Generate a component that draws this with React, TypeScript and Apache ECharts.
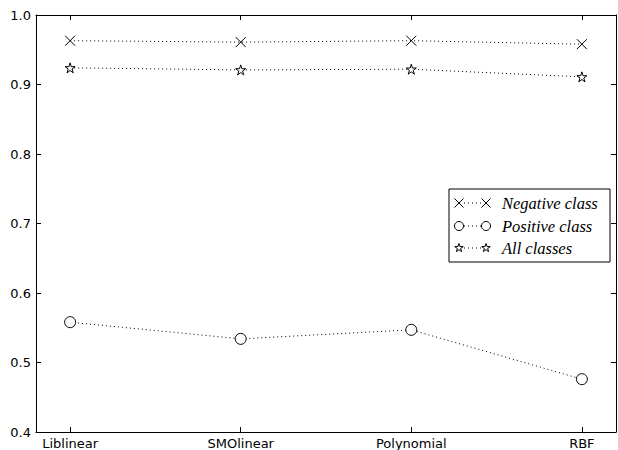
import React, { useEffect, useRef } from "react";
import * as echarts from "echarts";

const categories = ["Liblinear", "SMOlinear", "Polynomial", "RBF"];
const negativeClass = [0.963, 0.961, 0.963, 0.958];
const positiveClass = [0.558, 0.534, 0.547, 0.476];
const allClasses = [0.924, 0.921, 0.922, 0.911];
const yTicks = [0.4, 0.5, 0.6, 0.7, 0.8, 0.9, 1.0];
const seriesNames = ["Negative class", "Positive class", "All classes"];

const CROSS = "path://M0 0L10 10M10 0L0 10";
const STAR =
  "path://M50 0L61.17 34.63L97.55 34.55L68.07 55.87L79.39 90.45L50 69L20.61 90.45L31.93 55.87L2.45 34.55L38.83 34.63Z";

function starPoints(cx: number, cy: number, r: number): number[][] {
  const pts: number[][] = [];
  for (let i = 0; i < 10; i++) {
    const ang = (-90 + i * 36) * (Math.PI / 180);
    const rr = i % 2 === 0 ? r : r * 0.38;
    pts.push([cx + rr * Math.cos(ang), cy + rr * Math.sin(ang)]);
  }
  return pts;
}

export default function App() {
  const ref = useRef<HTMLDivElement>(null);
  useEffect(() => {
    if (!ref.current) return;
    const chart = echarts.init(ref.current, null, { renderer: "svg" });
    const idx = categories.map((_, i) => i);
    const axisCommon = {
      axisLine: { show: true, onZero: false, lineStyle: { color: "#000", width: 1 } },
      splitLine: { show: false },
    };
    const mkSeries = (name: string, data: number[], symbol: string, size: number) => ({
      name,
      type: "line",
      data: data.map((v, i) => [idx[i], v]),
      symbol,
      symbolSize: size,
      lineStyle: { color: "#000", width: 1, type: [1, 3] },
      itemStyle: { color: "#fff", borderColor: "#000", borderWidth: 1 },
      z: 3,
    });

    const lx = 449, ly = 189, lw = 161, lh = 73;
    const rowY = [203, 226, 248];
    const m1 = 459, m2 = 486, tx = 502;
    const dotted = (y: number) => ({
      type: "line",
      shape: { x1: m1 + 5, y1: y, x2: m2 - 5, y2: y },
      style: { stroke: "#000", lineWidth: 1, lineDash: [1, 3] },
    });
    const cross = (x: number, y: number) => [
      { type: "line", shape: { x1: x - 4.5, y1: y - 4.5, x2: x + 4.5, y2: y + 4.5 }, style: { stroke: "#000", lineWidth: 1 } },
      { type: "line", shape: { x1: x - 4.5, y1: y + 4.5, x2: x + 4.5, y2: y - 4.5 }, style: { stroke: "#000", lineWidth: 1 } },
    ];
    const circ = (x: number, y: number) => ({
      type: "circle",
      shape: { cx: x, cy: y, r: 4.5 },
      style: { fill: "#fff", stroke: "#000", lineWidth: 1 },
    });
    const star = (x: number, y: number) => ({
      type: "polygon",
      shape: { points: starPoints(x, y, 4.5) },
      style: { fill: "#fff", stroke: "#000", lineWidth: 1 },
    });
    const label = (text: string, y: number) => ({
      type: "text",
      x: tx,
      y,
      style: {
        text,
        fill: "#000",
        font: "italic 16.5px 'Liberation Serif', serif",
        verticalAlign: "middle",
      },
    });

    chart.setOption({
      animation: false,
      backgroundColor: "#fff",
      grid: { left: 36, right: 2, top: 15, bottom: 18, containLabel: false },
      xAxis: [
        {
          type: "value",
          min: -0.2,
          max: 3.2,
          position: "bottom",
          ...axisCommon,
          axisTick: { show: true, inside: true, length: 5, customValues: idx, lineStyle: { color: "#000" } },
          axisLabel: {
            show: true,
            customValues: idx,
            formatter: (v: number) => categories[Math.round(v)] ?? "",
            color: "#000",
            fontFamily: "DejaVu Sans",
            fontSize: 13,
            margin: 5,
          },
        },
        {
          type: "value",
          min: -0.2,
          max: 3.2,
          position: "top",
          ...axisCommon,
          axisTick: { show: true, inside: true, length: 5, customValues: idx, lineStyle: { color: "#000" } },
          axisLabel: { show: false },
        },
      ],
      yAxis: [
        {
          type: "value",
          min: yTicks[0],
          max: yTicks[yTicks.length - 1],
          interval: 0.1,
          position: "left",
          ...axisCommon,
          axisTick: { show: true, inside: true, length: 5, lineStyle: { color: "#000" } },
          axisLabel: {
            color: "#000",
            fontFamily: "DejaVu Sans",
            fontSize: 13,
            margin: 5,
            formatter: (v: number) => v.toFixed(1),
          },
        },
        {
          type: "value",
          min: yTicks[0],
          max: yTicks[yTicks.length - 1],
          interval: 0.1,
          position: "right",
          ...axisCommon,
          axisTick: { show: true, inside: true, length: 5, lineStyle: { color: "#000" } },
          axisLabel: { show: false },
        },
      ],
      legend: { show: false },
      series: [
        mkSeries(seriesNames[0], negativeClass, CROSS, 10),
        mkSeries(seriesNames[1], positiveClass, "circle", 11),
        mkSeries(seriesNames[2], allClasses, STAR, 10),
      ],
      graphic: [
        {
          type: "group",
          z: 10,
          children: [
            {
              type: "rect",
              shape: { x: lx, y: ly, width: lw, height: lh },
              style: { fill: "#fff", stroke: "#000", lineWidth: 1 },
            },
            dotted(rowY[0]),
            ...cross(m1, rowY[0]),
            ...cross(m2, rowY[0]),
            label(seriesNames[0], rowY[0]),
            dotted(rowY[1]),
            circ(m1, rowY[1]),
            circ(m2, rowY[1]),
            label(seriesNames[1], rowY[1]),
            dotted(rowY[2]),
            star(m1, rowY[2]),
            star(m2, rowY[2]),
            label(seriesNames[2], rowY[2]),
          ],
        },
      ],
    });
    return () => chart.dispose();
  }, []);
  return (
    <div
      ref={ref}
      style={{ position: "absolute", left: 0, top: 0, width: 618, height: 450, background: "#fff" }}
    />
  );
}
